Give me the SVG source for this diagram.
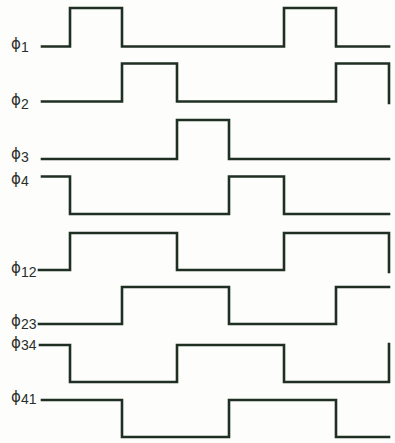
<svg xmlns="http://www.w3.org/2000/svg" width="395" height="443" viewBox="0 0 395 443">
<style>
.w{fill:none;stroke:#1f2f22;stroke-width:2.6;stroke-linejoin:miter;stroke-linecap:square}
.l{font-family:"DejaVu Sans",sans-serif;font-size:15px;fill:#2a2e2a}
.s{font-family:"Liberation Sans",Arial,sans-serif;font-size:14px}
</style>
<rect width="395" height="443" fill="#fdfdfb"/>
<g id="phi1"><text class="l" x="11" y="49">ϕ<tspan class="s" dy="3">1</tspan></text><path class="w" d="M42,46.5 H70 V8 H122 V46.5 H284 V8 H336 V46.5 H389"/></g>
<g id="phi2"><text class="l" x="11" y="105">ϕ<tspan class="s" dy="4">2</tspan></text><path class="w" d="M42,101.5 H122 V63.5 H177 V101.5 H336 V63.5 H389 V103"/></g>
<g id="phi3"><text class="l" x="11" y="159">ϕ<tspan class="s" dy="3">3</tspan></text><path class="w" d="M42,159 H177 V120 H229 V159 H389"/></g>
<g id="phi4"><text class="l" x="11" y="184">ϕ<tspan class="s" dy="2">4</tspan></text><path class="w" d="M42,176.5 H70 V214 H229 V176.5 H284 V214 H389"/></g>
<g id="phi12"><text class="l" x="11" y="273">ϕ<tspan class="s" dy="4">12</tspan></text><path class="w" d="M39,270 H70 V233 H177 V270 H284 V233 H389 V272"/></g>
<g id="phi23"><text class="l" x="11" y="326">ϕ<tspan class="s" dy="3">23</tspan></text><path class="w" d="M39,324 H122 V287 H229 V324 H336 V287 H389"/></g>
<g id="phi34"><text class="l" x="11" y="348">ϕ<tspan class="s" dy="2">34</tspan></text><path class="w" d="M40,345 H70 V382 H177 V345 H284 V382 H389 V344"/></g>
<g id="phi41"><text class="l" x="11" y="402">ϕ<tspan class="s" dy="2">41</tspan></text><path class="w" d="M42,400 H122 V437 H229 V400 H336 V437 H389"/></g>
<g id="connectors"/>
</svg>
